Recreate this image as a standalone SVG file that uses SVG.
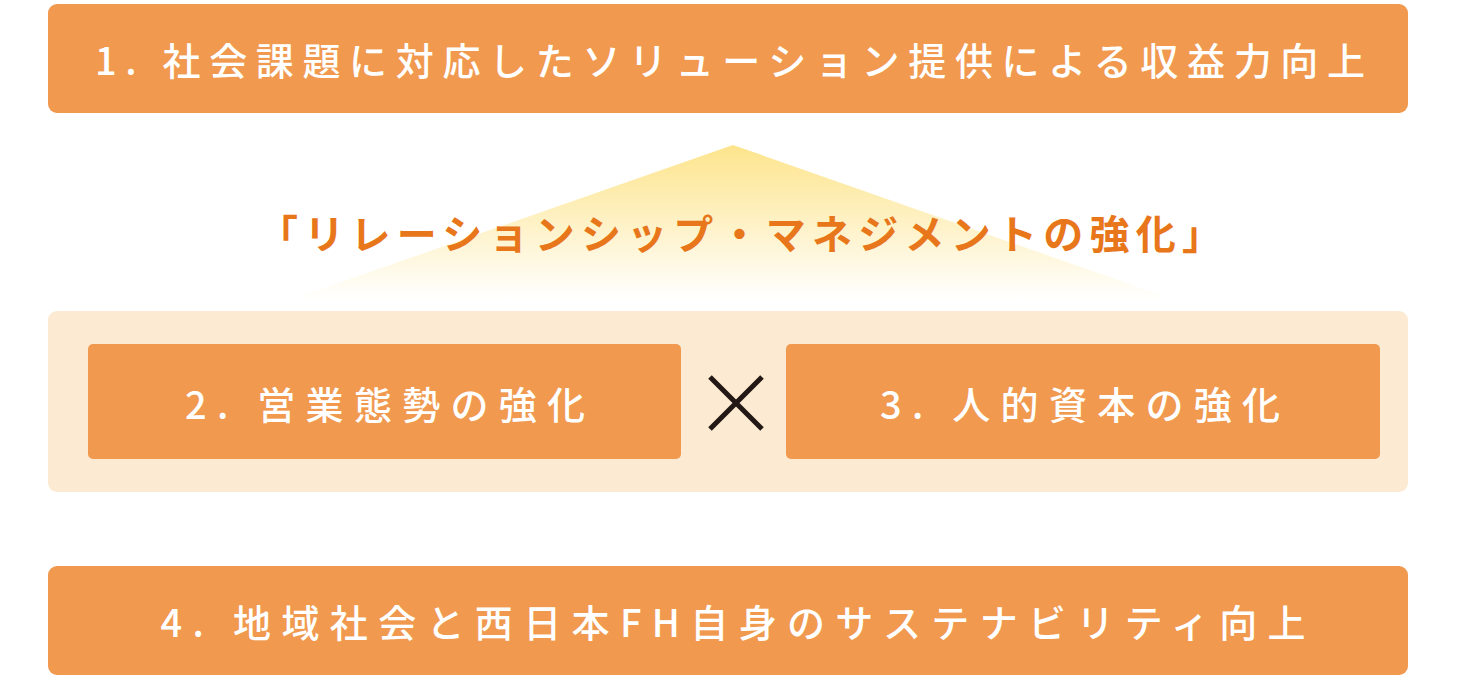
<svg xmlns="http://www.w3.org/2000/svg" width="1460" height="680" viewBox="0 0 1460 680">
<defs>
<linearGradient id="tri" x1="0" y1="0" x2="0" y2="1">
<stop offset="0" stop-color="#FDE48C"/>
<stop offset="1" stop-color="#FFFFFF"/>
</linearGradient>
<style>
.box{fill:#F0994F}
.t{font-family:"Noto Sans CJK JP","Noto Sans",sans-serif;font-weight:500;fill:#FFFFFF;font-size:38px;text-anchor:middle;dominant-baseline:central}
.title{font-family:"Noto Sans CJK JP","Noto Sans",sans-serif;font-weight:700;fill:#E8761A;font-size:40px;text-anchor:middle;dominant-baseline:central}
</style>
</defs>
<rect width="1460" height="680" fill="#FFFFFF"/>
<g id="bg">
<polygon points="733,145 1175,300 290,300" fill="url(#tri)"/>
<text class="title" x="740" y="232" textLength="964" lengthAdjust="spacing">「リレーションシップ・マネジメントの強化」</text>
<rect x="48" y="311" width="1360" height="181" rx="9" fill="#FCEBD2"/>
</g>
<g id="node1">
<rect class="box" x="48" y="4" width="1360" height="109" rx="9"/>
<text class="t" x="730" y="58" textLength="1270" lengthAdjust="spacing">1. 社会課題に対応したソリューション提供による収益力向上</text>
</g>
<g id="node2">
<rect class="box" x="88" y="344" width="593" height="115" rx="5"/>
<text class="t" x="385" y="402" textLength="400" lengthAdjust="spacing">2. 営業態勢の強化</text>
</g>
<g id="node3">
<rect class="box" x="786" y="344" width="594" height="115" rx="5"/>
<text class="t" x="1080" y="402" textLength="400" lengthAdjust="spacing">3. 人的資本の強化</text>
</g>
<g id="connectors">
<path d="M710 377 L762 429 M762 377 L710 429" stroke="#231815" stroke-width="5" fill="none"/>
</g>
<g id="node4">
<rect class="box" x="48" y="566" width="1360" height="109" rx="9"/>
<text class="t" x="733" y="620" textLength="1145" lengthAdjust="spacing">4. 地域社会と西日本FH自身のサステナビリティ向上</text>
</g>
</svg>
